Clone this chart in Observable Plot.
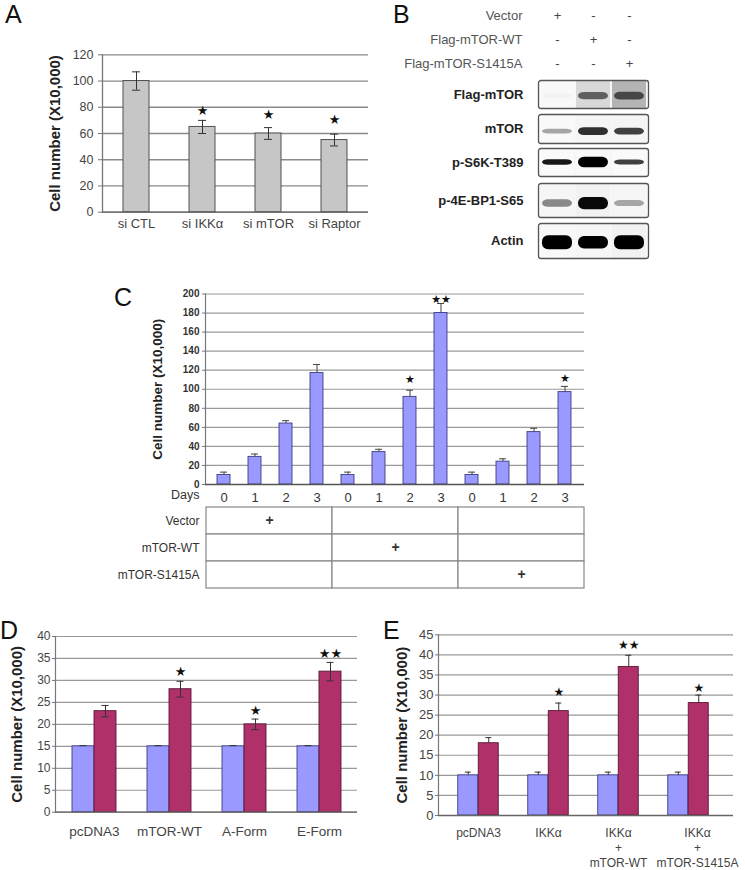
<!DOCTYPE html>
<html><head><meta charset="utf-8">
<script src="https://cdn.jsdelivr.net/npm/d3@7"></script>
<script src="https://cdn.jsdelivr.net/npm/@observablehq/plot@0.6"></script>
<style>
body{margin:0;background:#fff}
#root{position:relative;width:745px;height:870px;overflow:hidden;font-family:"Liberation Sans",Arial,sans-serif;background:#fff}
.letter{position:absolute;font-size:25px;line-height:1.1;color:#111}
</style>
</head><body><div id="root"></div>
<script>
// ---------- Panel A ----------
const aCategories = ["si CTL", "si IKKα", "si mTOR", "si Raptor"];
const aValues = [100, 65, 60, 55];
const aErrors = [7, 5, 4.5, 4.5];
const aStars = ["", "★", "★", "★"];
const aStarY = [null, 77, 74.5, 70.5];
const aTicks = [0, 20, 40, 60, 80, 100, 120];

// ---------- Panel B (western blot) ----------
const bConditions = ["Vector", "Flag-mTOR-WT", "Flag-mTOR-S1415A"];
const bLanes = ["1", "2", "3"];
const bSigns = [["+", "-", "-"], ["-", "+", "-"], ["-", "-", "+"]];
const bProteins = ["Flag-mTOR", "mTOR", "p-S6K-T389", "p-4E-BP1-S65", "Actin"];
const bIntensity = [[0.1, 0.7, 0.78], [0.45, 0.85, 0.8], [0.92, 1, 0.8], [0.55, 0.97, 0.45], [1, 1, 1]];
const bThickness = [[0.15, 0.26, 0.28], [0.16, 0.27, 0.24], [0.2, 0.38, 0.17], [0.22, 0.36, 0.18], [0.4, 0.36, 0.4]];
const bOffset = [[-0.12, -0.12, -0.12], [-0.18, -0.18, -0.18], [0, 0, 0], [-0.18, -0.18, -0.18], [-0.1, -0.1, -0.1]];
const bBackground = [[0.06, 0.25, 0.4], [0.05, 0.08, 0.08], [0.04, 0.05, 0.04], [0.07, 0.1, 0.07], [0.06, 0.07, 0.1]];

// ---------- Panel C ----------
const cGroups = ["Vector", "mTOR-WT", "mTOR-S1415A"];
const cDays = ["0", "1", "2", "3"];
const cVector = [10, 29, 64, 117];
const cWT = [10, 34, 92, 180];
const cS1415A = [10, 24, 55, 97];
const cVectorErr = [3, 3, 3, 9];
const cWTErr = [3, 3, 7, 10];
const cS1415AErr = [3, 3, 4, 6];
const cStars = [["", "", "", ""], ["", "", "★", "★★"], ["", "", "", "★"]];
const cStarY = [[null, null, null, null], [null, null, 110.5, 194], [null, null, null, 111]];
const cTicks = [0, 20, 40, 60, 80, 100, 120, 140, 160, 180, 200];

// ---------- Panel D ----------
const dCategories = ["pcDNA3", "mTOR-WT", "A-Form", "E-Form"];
const dBefore = [15, 15, 15, 15];
const dBeforeErr = [0.15, 0.15, 0.15, 0.15];
const dAfter = [23, 28, 20, 32];
const dAfterErr = [1.3, 1.8, 1.2, 2.1];
const dStars = ["", "★", "★", "★★"];
const dStarY = [null, 31.9, 23, 36];
const dTicks = [0, 5, 10, 15, 20, 25, 30, 35, 40];

// ---------- Panel E ----------
const eCategories = ["pcDNA3", "IKKα", "IKKα\n+\nmTOR-WT", "IKKα\n+\nmTOR-S1415A"];
const eBefore = [10, 10, 10, 10];
const eBeforeErr = [0.8, 0.8, 0.8, 0.8];
const eAfter = [18, 26, 37, 28];
const eAfterErr = [1.4, 2, 2.9, 2];
const eStars = ["", "★", "★★", "★"];
const eStarY = [null, 30.7, 42.4, 31.6];
const eTicks = [0, 5, 10, 15, 20, 25, 30, 35, 40, 45];

// ---------- helpers ----------
const FONT = '"Liberation Sans", Arial, Helvetica, sans-serif';
const STARFONT = '"DejaVu Sans", sans-serif';
const BLUE = "#9999ff", BLUE_EDGE = "#3c3c86", RED = "#b0306a", RED_EDGE = "#5a1835";
const root = document.getElementById("root");
function place(node, left, top) {
  node.style.position = "absolute";
  node.style.left = left + "px";
  node.style.top = top + "px";
  node.style.overflow = "visible";
  node.style.background = "transparent";
  root.appendChild(node);
  return node;
}
function letter(t, left, top) {
  const d = document.createElement("div");
  d.className = "letter"; d.textContent = t;
  d.style.left = left + "px"; d.style.top = top + "px";
  root.appendChild(d);
}
const baseStyle = {fontFamily: FONT, background: "transparent", overflow: "visible"};
const yLabel = (dx, size) => Plot.text(["Cell number (X10,000)"], {text: d => d, frameAnchor: "left", textAnchor: "middle", rotate: -90, dx, fontWeight: "bold", fontSize: size, fill: "#222"});

// ---------- Panel A ----------
const aData = aCategories.map((cat, i) => ({cat, v: aValues[i], e: aErrors[i], star: aStars[i], sy: aStarY[i]}));
place(Plot.plot({
  width: 380, height: 215, marginLeft: 102, marginRight: 12, marginTop: 24.3, marginBottom: 33.3,
  style: baseStyle,
  x: {domain: aCategories, paddingInner: 0.61, paddingOuter: 0.305},
  y: {domain: [0, 120]},
  marks: [
    Plot.ruleY(aTicks, {stroke: "#8a8a8a", strokeWidth: 1.3}),
    Plot.barY(aData, {x: "cat", y: "v", fill: "#c6c6c6", stroke: "#505050", strokeWidth: 1}),
    Plot.ruleX(aData, {x: "cat", y1: d => d.v - d.e, y2: d => d.v + d.e, stroke: "#333"}),
    Plot.tickY(aData, {x: "cat", y: d => d.v + d.e, insetLeft: 9, insetRight: 9, stroke: "#333"}),
    Plot.tickY(aData, {x: "cat", y: d => d.v - d.e, insetLeft: 9, insetRight: 9, stroke: "#333"}),
    Plot.text(aData.filter(d => d.star), {x: "cat", y: "sy", text: "star", fontSize: 13, fontFamily: STARFONT, fill: "#111"}),
    Plot.frame({anchor: "left", stroke: "#777", strokeWidth: 1.3}),
    Plot.ruleY([0], {stroke: "#666", strokeWidth: 1.3}),
    Plot.axisY(aTicks, {tickSize: 4, tickPadding: 5, fontSize: 12.5, fill: "#444", stroke: "#777", label: null}),
    Plot.axisX({tickSize: 0, tickPadding: 7, fontSize: 13, fill: "#444", label: null}),
    yLabel(-47, 15)
  ]
}), 0, 30);
letter("A", 5, 1);

// ---------- Panel B header ----------
const bHeader = bConditions.flatMap((cond, i) => bLanes.map((lane, j) => ({cond, lane, sign: bSigns[i][j]})));
place(Plot.plot({
  width: 365, height: 75, marginLeft: 150, marginRight: 0, marginTop: 0, marginBottom: 0,
  style: baseStyle,
  x: {type: "point", domain: bLanes, range: [177, 249], padding: 0, axis: null},
  y: {type: "point", domain: bConditions, range: [15, 63], padding: 0},
  marks: [
    Plot.axisY({tickSize: 0, tickPadding: 8, fontSize: 13, fill: "#555", label: null}),
    Plot.text(bHeader, {x: "lane", y: "cond", text: "sign", fontSize: 13, fill: "#444"})
  ]
}), 380, 0);
letter("B", 393, 1);

// ---------- Panel B blot rows ----------
const bBoxes = [[80, 108], [114, 143], [148, 176], [183, 217], [223, 258]]; // layout (page y)
bProteins.forEach((prot, i) => {
  const [t, b] = bBoxes[i];
  const rows = bLanes.map((lane, j) => ({lane, inten: bIntensity[i][j], thick: bThickness[i][j], off: bOffset[i][j], bg: bBackground[i][j]}));
  const node = Plot.plot({
    width: 365, height: b - t + 2, marginLeft: 158, marginRight: 97, marginTop: 1, marginBottom: 1,
    style: baseStyle,
    x: {domain: bLanes, paddingInner: 0.06, paddingOuter: 0.04, axis: null},
    y: {domain: [-1, 1], axis: null},
    marks: [
      Plot.frame({fill: "#f7f7f7", rx: 2}),
      Plot.barY(rows, {x: "lane", y1: -1, y2: 1, fill: d => d3.interpolateGreys(d.bg), ariaLabel: "band", clip: true}),
      Plot.barY(rows, {x: "lane", y1: d => d.off - d.thick, y2: d => d.off + d.thick, fill: d => d3.interpolateGreys(d.inten), rx: 6, insetLeft: 2, insetRight: 2, ariaLabel: "band", clip: true}),
      Plot.frame({stroke: "#555", strokeWidth: 1.3, rx: 2.5}),
      Plot.text([prot], {text: d => d, frameAnchor: "left", dx: -15, textAnchor: "end", fontWeight: "bold", fontSize: 13, fill: "#222"})
    ]
  });
  const svg = d3.select(node);
  const fid = "blur" + i;
  svg.insert("defs", ":first-child").append("filter").attr("id", fid)
    .attr("x", "-20%").attr("y", "-60%").attr("width", "140%").attr("height", "220%")
    .append("feGaussianBlur").attr("stdDeviation", "2.6 1.7");
  svg.selectAll('g[aria-label="band"]').attr("filter", `url(#${fid})`);
  place(node, 380, t - 1);
});

// ---------- Panel C ----------
const cValues = [cVector, cWT, cS1415A];
const cErrs = [cVectorErr, cWTErr, cS1415AErr];
const cData = cGroups.flatMap((g, gi) => cDays.map((day, di) => ({key: g + "|" + day, day, v: cValues[gi][di], e: cErrs[gi][di], star: cStars[gi][di], sy: cStarY[gi][di]})));
place(Plot.plot({
  width: 500, height: 225, marginLeft: 115, marginRight: 6, marginTop: 13.5, marginBottom: 21,
  style: baseStyle,
  x: {domain: cData.map(d => d.key), paddingInner: 0.58, paddingOuter: 0.29},
  y: {domain: [0, 200]},
  marks: [
    Plot.ruleY(cTicks, {stroke: "#9a9a9a", strokeWidth: 1.2}),
    Plot.barY(cData, {x: "key", y: "v", fill: BLUE, stroke: BLUE_EDGE, strokeWidth: 0.9}),
    Plot.ruleX(cData, {x: "key", y1: "v", y2: d => d.v + d.e, stroke: "#444"}),
    Plot.tickY(cData, {x: "key", y: d => d.v + d.e, insetLeft: 3, insetRight: 3, stroke: "#444"}),
    Plot.text(cData.filter(d => d.star), {x: "key", y: "sy", text: "star", fontSize: 11, fontFamily: STARFONT, fill: "#111"}),
    Plot.frame({anchor: "left", stroke: "#777", strokeWidth: 1.2}),
    Plot.ruleY([0], {stroke: "#555", strokeWidth: 1.3}),
    Plot.axisY(cTicks, {tickSize: 3, tickPadding: 3, fontSize: 10, fontWeight: "bold", fill: "#333", stroke: "#777", label: null}),
    Plot.axisX({tickSize: 0, tickPadding: 8, fontSize: 13, fill: "#333", tickFormat: k => k.split("|")[1], label: null}),
    Plot.text(["Days"], {text: d => d, frameAnchor: "bottom-left", dx: -6, dy: 14.5, textAnchor: "end", fontSize: 12.5, fill: "#333"}),
    yLabel(-48, 13.5)
  ]
}), 90, 280);
letter("C", 114, 284);

// ---------- Panel C table ----------
const tableCells = cGroups.flatMap(g => cGroups.map(r => ({g, r, sign: g === r ? "+" : ""})));
place(Plot.plot({
  width: 500, height: 95, marginLeft: 115, marginRight: 6, marginTop: 7, marginBottom: 7,
  style: baseStyle,
  x: {domain: cGroups, padding: 0, axis: null},
  y: {domain: cGroups, padding: 0},
  marks: [
    Plot.cell(tableCells, {x: "g", y: "r", fill: "white", stroke: "#888", strokeWidth: 1.2}),
    Plot.text(tableCells.filter(d => d.sign), {x: "g", y: "r", text: "sign", fontSize: 14, fontWeight: "bold", fill: "#333"}),
    Plot.axisY({tickSize: 0, tickPadding: 6, fontSize: 12, fill: "#333", label: null})
  ]
}), 90, 500);

// ---------- grouped bar charts (D, E) ----------
function grouped(cfg) {
  const data = cfg.cats.map((cat, i) => ({cat, b: cfg.before[i], be: cfg.beforeErr[i], a: cfg.after[i], ae: cfg.afterErr[i], star: cfg.stars[i], sy: cfg.starY[i]}));
  const hw = cfg.hw;
  const marks = [
    Plot.ruleY(cfg.ticks, {stroke: "#999", strokeWidth: 1.2}),
    Plot.barY(data, {x: "cat", y: "b", dx: -hw, fill: BLUE, stroke: BLUE_EDGE, strokeWidth: 0.9}),
    Plot.barY(data, {x: "cat", y: "a", dx: hw, fill: RED, stroke: RED_EDGE, strokeWidth: 0.9}),
    Plot.ruleX(data, {x: "cat", y1: "b", y2: d => d.b + d.be, dx: -hw, stroke: "#333"}),
    Plot.tickY(data, {x: "cat", y: d => d.b + d.be, dx: -hw, insetLeft: cfg.capInset, insetRight: cfg.capInset, stroke: "#333"}),
    Plot.ruleX(data, {x: "cat", y1: d => cfg.bothSides ? d.a - d.ae : d.a, y2: d => d.a + d.ae, dx: hw, stroke: "#333"}),
    Plot.tickY(data, {x: "cat", y: d => d.a + d.ae, dx: hw, insetLeft: cfg.capInset, insetRight: cfg.capInset, stroke: "#333"}),
  ];
  if (cfg.bothSides) marks.push(Plot.tickY(data, {x: "cat", y: d => d.a - d.ae, dx: hw, insetLeft: cfg.capInset, insetRight: cfg.capInset, stroke: "#333"}));
  marks.push(
    Plot.text(data.filter(d => d.star), {x: "cat", y: "sy", dx: hw, text: "star", fontSize: cfg.starSize, fontFamily: STARFONT, fill: "#111"}),
    Plot.frame({anchor: "left", stroke: "#777", strokeWidth: 1.2}),
    Plot.ruleY([0], {stroke: "#666", strokeWidth: 1.3}),
    Plot.axisY(cfg.ticks, {tickSize: 3, tickPadding: cfg.yPad, fontSize: cfg.yFont, fill: "#444", stroke: "#777", label: null})
  );
  // category labels; the last one may be nudged right as in the original figure
  const n = cfg.cats.length;
  const shift = cfg.lastLabelShift || 0;
  marks.push(
    Plot.axisX(shift ? cfg.cats.slice(0, n - 1) : cfg.cats, {tickSize: 0, tickPadding: cfg.xPad, fontSize: cfg.xFont, lineHeight: 1.25, fill: "#444", label: null})
  );
  if (shift) marks.push(Plot.axisX(cfg.cats.slice(n - 1), {tickSize: 0, tickPadding: cfg.xPad, fontSize: cfg.xFont, lineHeight: 1.25, dx: shift, fill: "#444", label: null}));
  marks.push(yLabel(cfg.labelDx, 15));
  const xScale = {domain: cfg.cats, paddingInner: 0.709, paddingOuter: 0.3545};
  if (cfg.xRange) xScale.range = cfg.xRange;
  return Plot.plot({
    width: cfg.width, height: cfg.height,
    marginLeft: cfg.ml, marginRight: cfg.mr, marginTop: cfg.mt, marginBottom: cfg.mb,
    style: baseStyle, x: xScale, y: {domain: [0, cfg.yMax]}, marks
  });
}

place(grouped({
  cats: dCategories, before: dBefore, beforeErr: dBeforeErr, after: dAfter, afterErr: dAfterErr,
  stars: dStars, starY: dStarY, ticks: dTicks, yMax: 40,
  width: 370, height: 250, ml: 55, mr: 13, mt: 16, mb: 58.3, hw: 11, capInset: 7.5,
  bothSides: true, starSize: 13, yFont: 12, yPad: 2, xFont: 13.5, xPad: 12, labelDx: -38
}), 0, 620);
letter("D", 0, 617);

place(grouped({
  cats: eCategories, before: eBefore, beforeErr: eBeforeErr, after: eAfter, afterErr: eAfterErr,
  stars: eStars, starY: eStarY, ticks: eTicks, yMax: 45,
  width: 375, height: 250, ml: 68, mr: 12, mt: 14.3, mb: 55, hw: 10.25, capInset: 7,
  xRange: [71.75, 353.75], lastLabelShift: 9,
  bothSides: false, starSize: 12, yFont: 13, yPad: 2, xFont: 12, xPad: 11, labelDx: -36
}), 370, 620);
letter("E", 383, 617);
</script>
</body></html>
